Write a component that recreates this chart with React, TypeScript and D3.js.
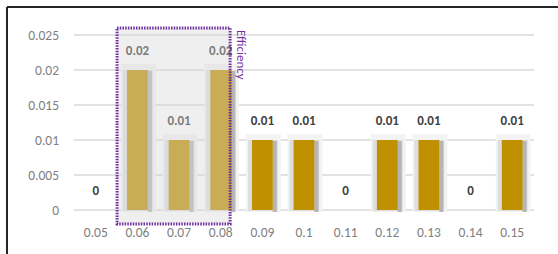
import React from 'react'
import * as d3 from 'd3'

const categories = ['0.05', '0.06', '0.07', '0.08', '0.09', '0.1', '0.11', '0.12', '0.13', '0.14', '0.15']
const values = [0, 0.02, 0.01, 0.02, 0.01, 0.01, 0, 0.01, 0.01, 0, 0.01]
const yTicks = [0, 0.005, 0.01, 0.015, 0.02, 0.025]
const yTickLabels = ['0', '0.005', '0.01', '0.015', '0.02', '0.025']
const highlighted = ['0.06', '0.07', '0.08']
const highlightLabel = 'Efficiency'

const App = () => {
  const width = 558
  const height = 254
  const font = "Calibri, Carlito, 'Open Sans', sans-serif"

  const x = d3.scaleBand<string>().domain(categories).range([75, 533]).paddingInner(0.5).paddingOuter(0.25)
  const y = d3.scaleLinear().domain([0, 0.025]).range([210, 35])

  const hx0 = x(highlighted[0])! - 10
  const hx1 = x(highlighted[highlighted.length - 1])! + x.bandwidth() - 1

  return (
    <svg width={width} height={height} style={{ position: 'absolute', left: 0, top: 0 }} fontFamily={font}>
      <rect width={width} height={height} fill="#fff" />
      {/* frame */}
      <line x1={7} x2={width} y1={7} y2={7} stroke="#262626" strokeWidth={2} />
      <line x1={7} x2={7} y1={7} y2={height} stroke="#262626" strokeWidth={2} />

      {/* grid + y labels */}
      {yTicks.map((t, i) => (
        <g key={t}>
          <line x1={74} x2={534} y1={y(t)} y2={y(t)} stroke="#d9d9d9" strokeWidth={1.5} />
          <text x={59} y={y(t)} dy="0.35em" textAnchor="end" fontSize={13.5} fill="#7f7f7f">
            {yTickLabels[i]}
          </text>
        </g>
      ))}

      {/* bars with soft shadow */}
      {categories.map((c, i) => {
        const bx = x(c)!
        const bw = x.bandwidth()
        const top = y(values[i])
        const h = y(0) - top
        return (
          <g key={c}>
            {h > 0 && (
              <>
                <rect x={bx - 6} y={top - 6} width={bw + 14} height={h + 8} fill="#f3f3f3" />
                <rect x={bx - 4} y={top} width={bw + 9} height={h + 1} fill="#dedede" />
                <rect x={bx + bw} y={top + 1} width={4} height={h + 1} fill="#b5b5b5" />
                <rect x={bx} y={top} width={bw} height={h} fill="#bf9000" />
              </>
            )}
            <text x={bx + bw / 2} y={top - 20} dy="0.35em" textAnchor="middle" fontSize={13} fontWeight="bold" fill="#404040">
              {values[i] === 0 ? '0' : String(values[i])}
            </text>
            <text x={bx + bw / 2} y={232} dy="0.35em" textAnchor="middle" fontSize={13.5} fill="#7f7f7f">
              {c}
            </text>
          </g>
        )
      })}

      {/* highlight box */}
      <rect x={hx0} y={28} width={hx1 - hx0} height={196} fill="#d6d6d6" fillOpacity={0.4} />
      <rect x={hx0} y={28} width={hx1 - hx0} height={196} fill="none" stroke="#7030a0" strokeWidth={3} strokeDasharray="1.5 1.2" />
      <text transform={`translate(${hx1 + 7},${30}) rotate(90)`} fontSize={13} fill="#7030a0">
        {highlightLabel}
      </text>
    </svg>
  )
}

export default App
